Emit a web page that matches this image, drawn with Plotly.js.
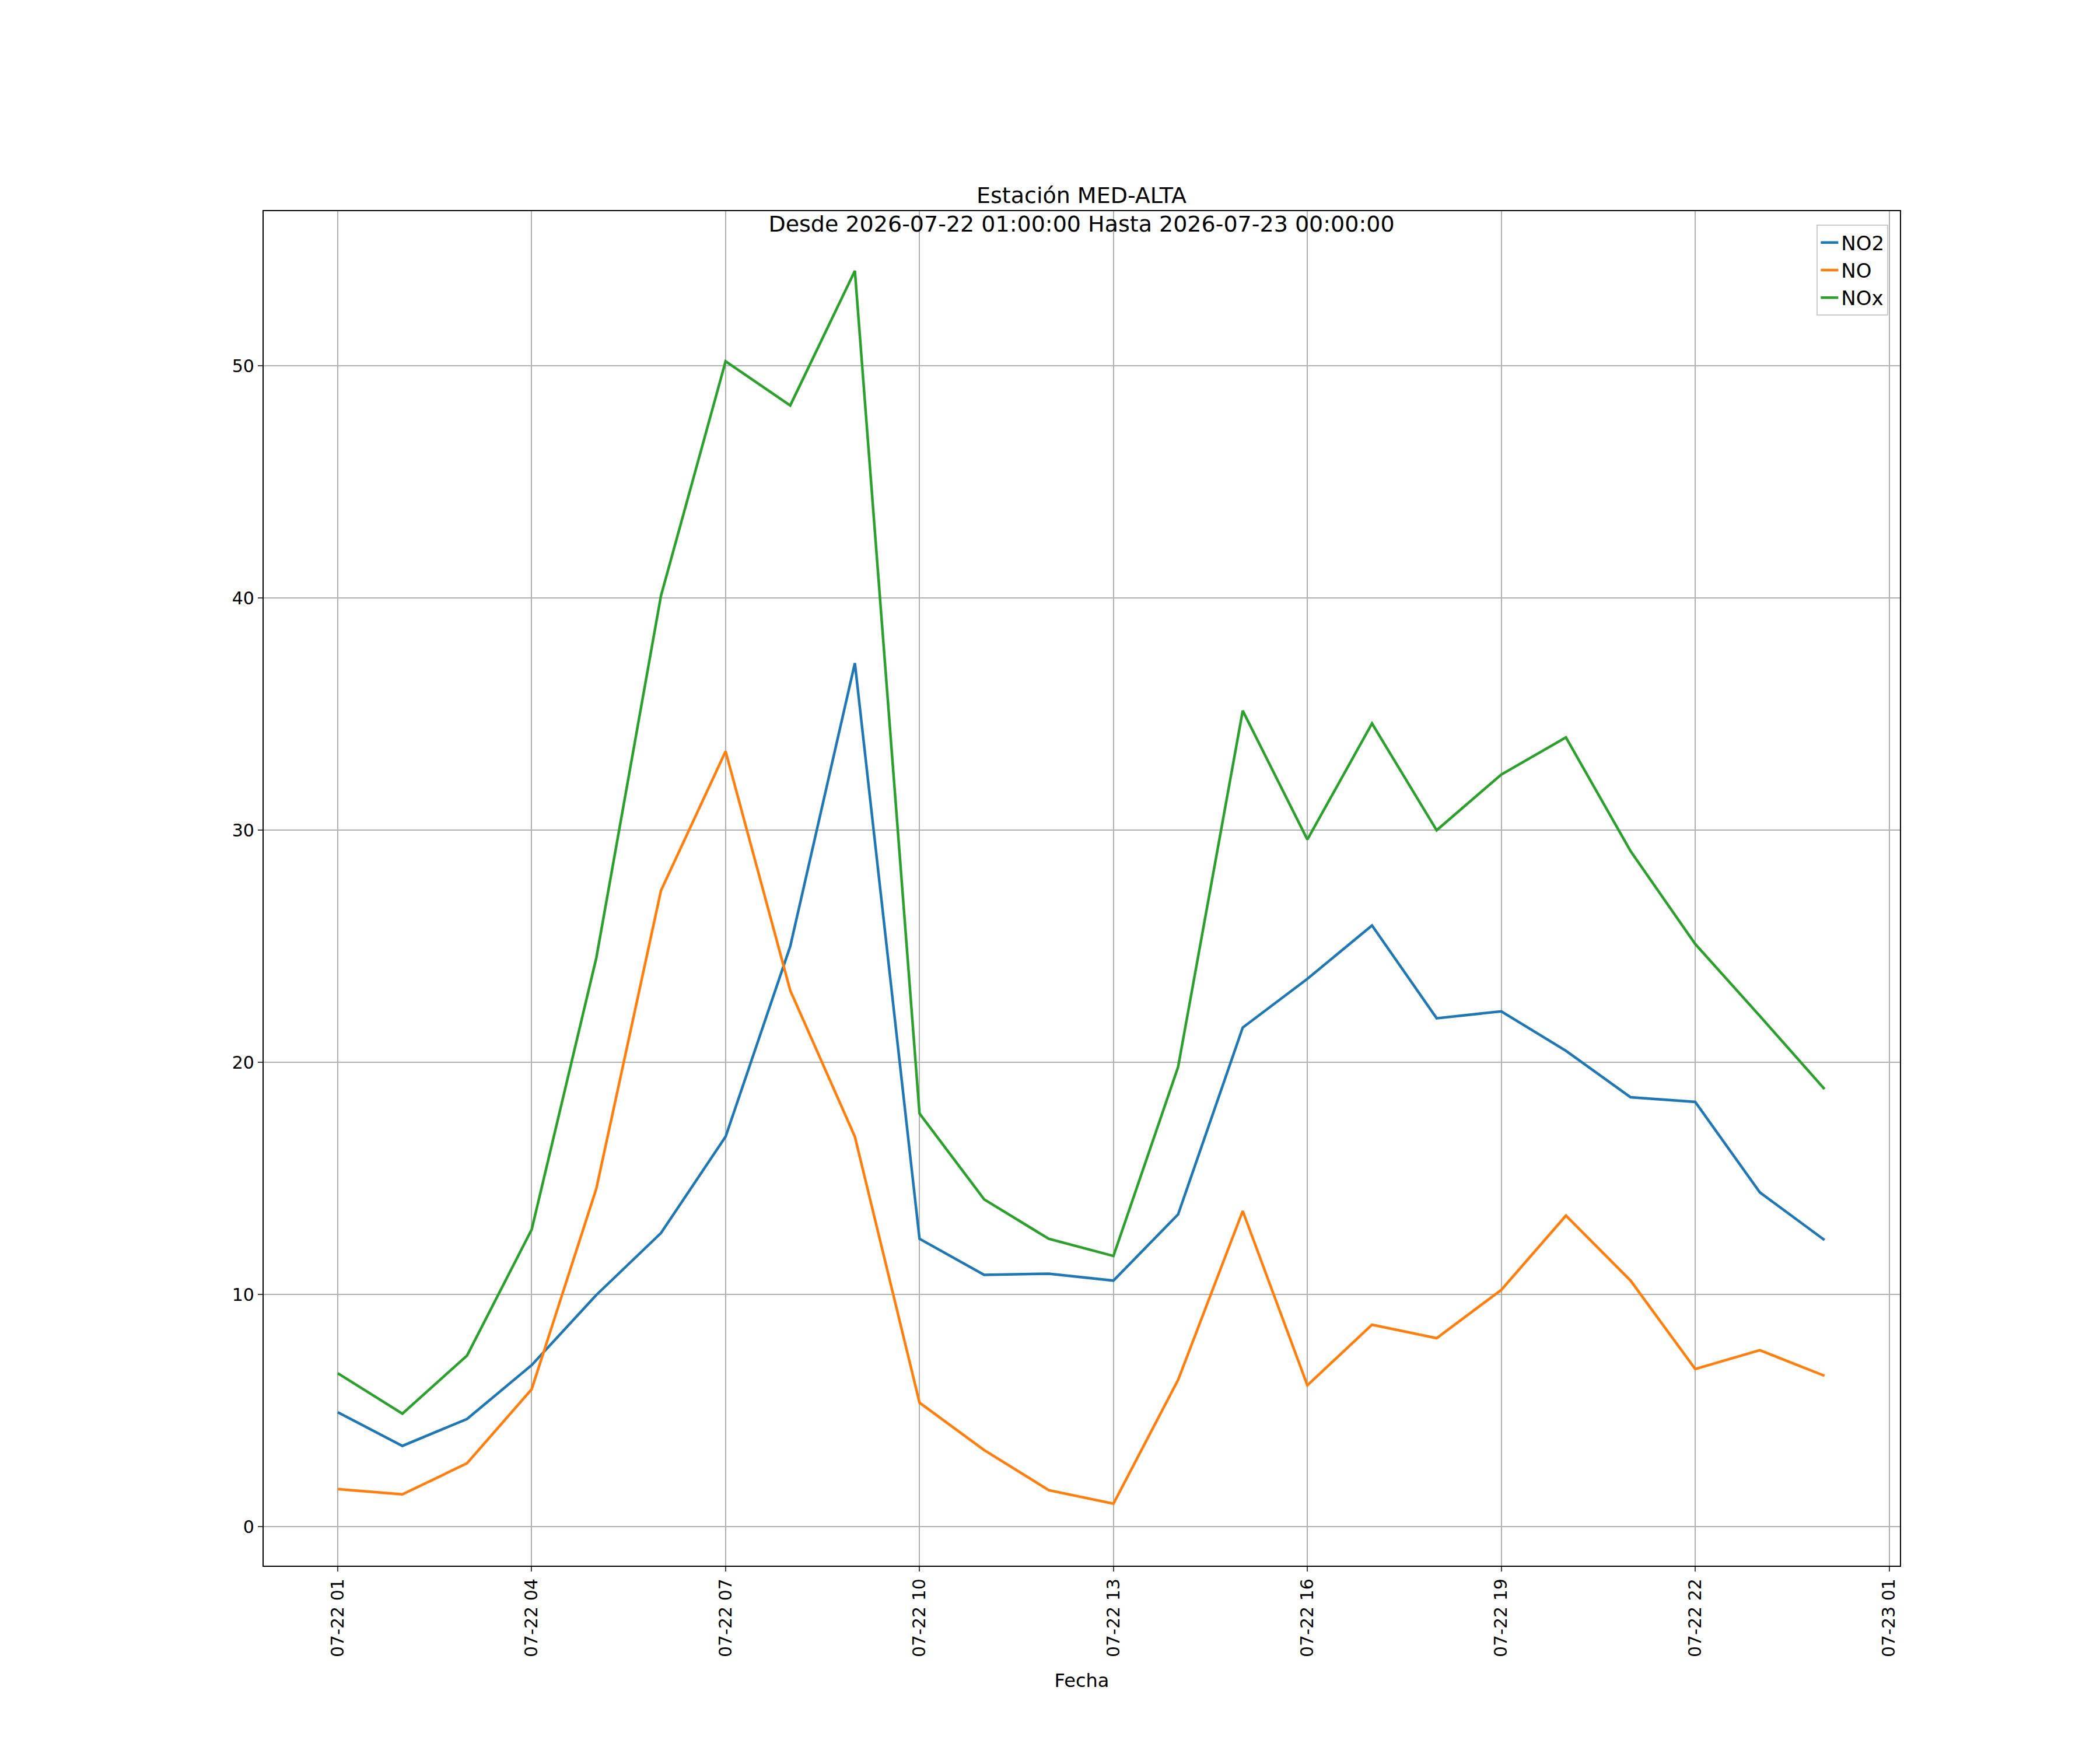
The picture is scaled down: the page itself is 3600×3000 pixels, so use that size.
<html>
<head>
<meta charset="utf-8" />
<script src="https://cdn.plot.ly/plotly-3.0.1.min.js"></script>
</head>
<body style="margin:0">
<div id="myDiv" style="width:3600px;height:3000px"></div>
<script>
const fechas = ['2026-07-22 01:00','2026-07-22 02:00','2026-07-22 03:00','2026-07-22 04:00','2026-07-22 05:00','2026-07-22 06:00',
  '2026-07-22 07:00','2026-07-22 08:00','2026-07-22 09:00','2026-07-22 10:00','2026-07-22 11:00','2026-07-22 12:00',
  '2026-07-22 13:00','2026-07-22 14:00','2026-07-22 15:00','2026-07-22 16:00','2026-07-22 17:00','2026-07-22 18:00',
  '2026-07-22 19:00','2026-07-22 20:00','2026-07-22 21:00','2026-07-22 22:00','2026-07-22 23:00','2026-07-23 00:00'];
const no2 = [4.93,3.48,4.64,6.96,9.98,12.65,16.8,25.0,37.2,12.4,10.85,10.9,10.6,13.45,21.5,23.6,25.9,21.9,22.2,20.5,18.5,18.3,14.4,12.35];
const no  = [1.62,1.39,2.73,5.92,14.56,27.4,33.4,23.1,16.8,5.34,3.3,1.57,0.99,6.32,13.6,6.09,8.7,8.12,10.2,13.4,10.6,6.79,7.6,6.5];
const nox = [6.61,4.87,7.37,12.8,24.5,40.1,50.2,48.3,54.1,17.8,14.1,12.4,11.66,19.8,35.15,29.6,34.6,30.0,32.4,34.0,29.1,25.1,22.0,18.85];

function serie(y, name, color) {
  return { x: fechas, y: y, mode: 'lines', type: 'scatter', name: name, line: { color: color, width: 4.5 } };
}
var data = [ serie(no2, 'NO2', '#1f77b4'), serie(no, 'NO', '#ff7f0e'), serie(nox, 'NOx', '#2ca02c') ];

var ax = { showline: true, mirror: true, linecolor: 'black', linewidth: 2.3, ticks: 'outside', ticklen: 8, tickwidth: 2.3,
  gridcolor: '#b0b0b0', gridwidth: 2.3, zeroline: false, tickfont: { size: 30, color: 'black' } };

var layout = {
  width: 3600, height: 3000,
  margin: { l: 452, r: 343, t: 362, b: 316 },
  font: { family: 'DejaVu Sans', color: 'black' },
  paper_bgcolor: 'white', plot_bgcolor: 'white',
  title: { text: 'Estación MED-ALTA<br>Desde 2026-07-22 01:00:00 Hasta 2026-07-23 00:00:00', font: { size: 38 }, x: 0.515, xanchor: 'center', y: 0.884, yanchor: 'bottom' },
  xaxis: Object.assign({}, ax, { type: 'date', range: ['2026-07-21 23:51:14', '2026-07-23 01:10:00'],
    tick0: '2026-07-22 01:00', dtick: 3 * 3600 * 1000, tickformat: '%m-%d %H', tickangle: -90,
    title: { text: 'Fecha', font: { size: 32 }, standoff: 30 } }),
  yaxis: Object.assign({}, ax, { range: [-1.68, 56.67], dtick: 10 }),
  legend: { x: 0.993, y: 0.99, xanchor: 'right', yanchor: 'top', bordercolor: '#cccccc', borderwidth: 2, bgcolor: 'white',
    font: { size: 34 }, tracegroupgap: 10 }
};

Plotly.newPlot('myDiv', data, layout, { displayModeBar: false });
</script>
</body>
</html>
